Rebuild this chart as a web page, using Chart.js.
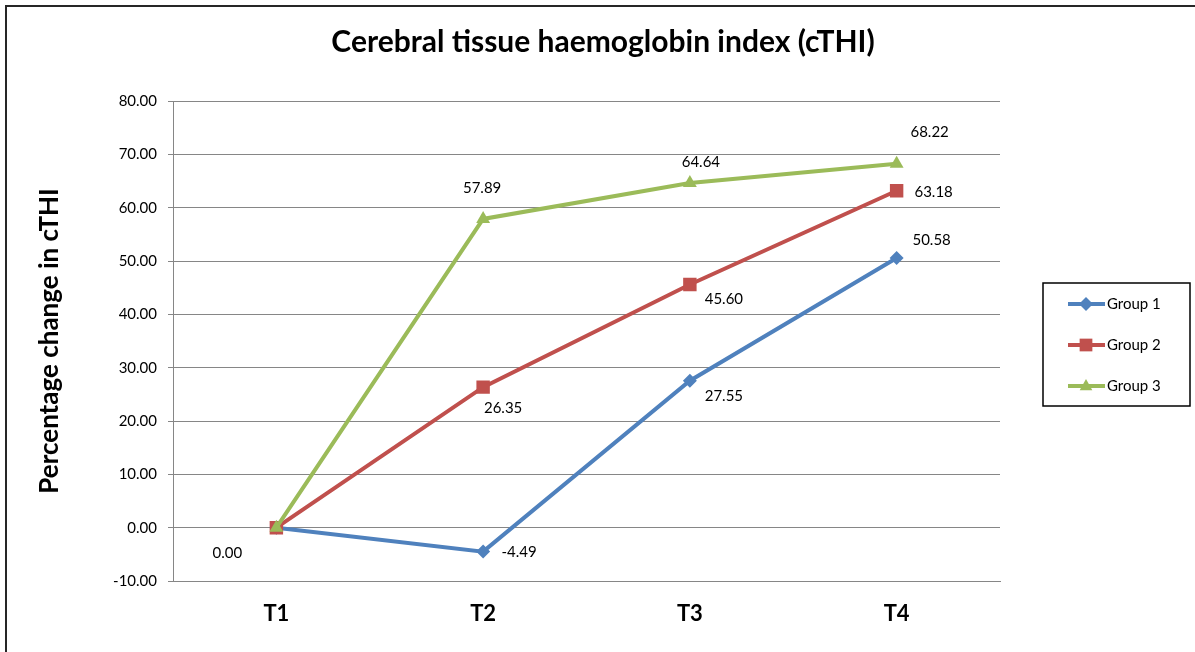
<!DOCTYPE html>
<html>
<head>
<meta charset="utf-8">
<script src="https://cdn.jsdelivr.net/npm/chart.js@4.4.1/dist/chart.umd.min.js"></script>
<style>
  html, body { margin: 0; padding: 0; background: #fff; overflow: hidden; }
  #wrap { position: relative; width: 1195px; height: 652px; }
  #frame { position: absolute; left: 5px; top: 5px; width: 1200px; height: 660px; border: 2px solid #262626; box-sizing: border-box; }
  canvas { position: absolute; left: 0; top: 0; }
</style>
</head>
<body>
<div id="wrap">
  <div id="frame"></div>
  <canvas id="chart" width="1195" height="652"></canvas>
</div>
<script>
const categories = ['T1', 'T2', 'T3', 'T4'];
const group1 = [0.00, -4.49, 27.55, 50.58];
const group2 = [0.00, 26.35, 45.60, 63.18];
const group3 = [0.00, 57.89, 64.64, 68.22];
const seriesNames = ['Group 1', 'Group 2', 'Group 3'];
const yMin = -10, yMax = 80, yStep = 10;
const chartTitle = 'Cerebral tissue haemoglobin index (cTHI)';

const colors = ['#4F81BD', '#C0504D', '#9BBB59'];
const markers = ['rectRot', 'rect', 'triangle'];
const FONT = 'Lato, "Open Sans", sans-serif';

// where each value label sits relative to its point (null = no label)
const labelOffsets = [
  [[-49, 25], [36, 1], [34, 15], [35, -18]],
  [null, [20, 21], [34, 15], [37, 1]],
  [null, [-1, -31], [11, -21], [33, -32]]
];

const valueLabels = {
  id: 'valueLabels',
  afterDatasetsDraw(chart) {
    const ctx = chart.ctx;
    ctx.save();
    ctx.font = '15px ' + FONT;
    ctx.fillStyle = '#000';
    ctx.textAlign = 'center';
    ctx.textBaseline = 'middle';
    chart.data.datasets.forEach((ds, i) => {
      const meta = chart.getDatasetMeta(i);
      meta.data.forEach((pt, j) => {
        const off = labelOffsets[i][j];
        if (!off) return;
        ctx.fillText(ds.data[j].toFixed(2), pt.x + off[0], pt.y + off[1]);
      });
    });
    ctx.restore();
  }
};

// title centred on the whole picture, not just the plot
const pageTitle = {
  id: 'pageTitle',
  afterDraw(chart) {
    const ctx = chart.ctx;
    ctx.save();
    ctx.font = 'bold 30px ' + FONT;
    ctx.fillStyle = '#000';
    ctx.textAlign = 'center';
    ctx.textBaseline = 'middle';
    ctx.fillText(chartTitle, 603, 42);
    ctx.restore();
  }
};

function drawMarker(ctx, style, x, y, r) {
  ctx.beginPath();
  if (style === 'rectRot') {
    ctx.moveTo(x - r, y); ctx.lineTo(x, y - r); ctx.lineTo(x + r, y); ctx.lineTo(x, y + r);
  } else if (style === 'rect') {
    const s = r * Math.SQRT1_2;
    ctx.rect(x - s, y - s, 2 * s, 2 * s);
  } else {
    ctx.moveTo(x, y - r); ctx.lineTo(x + r * 0.9, y + r * 0.6); ctx.lineTo(x - r * 0.9, y + r * 0.6);
  }
  ctx.closePath();
  ctx.fill();
}

// boxed legend to the right, like the original spreadsheet chart
const boxLegend = {
  id: 'boxLegend',
  afterDraw(chart) {
    const ctx = chart.ctx;
    ctx.save();
    ctx.strokeStyle = '#000';
    ctx.lineWidth = 1.5;
    ctx.strokeRect(1043, 283, 147, 123);
    ctx.font = '15px ' + FONT;
    ctx.textBaseline = 'middle';
    ctx.textAlign = 'left';
    chart.data.datasets.forEach((ds, i) => {
      const y = 304 + i * 41;
      ctx.strokeStyle = ds.borderColor;
      ctx.fillStyle = ds.borderColor;
      ctx.lineWidth = 4;
      ctx.beginPath();
      ctx.moveTo(1068, y); ctx.lineTo(1105, y);
      ctx.stroke();
      drawMarker(ctx, markers[i], 1086, y, i === 1 ? 9 : 7);
      ctx.fillStyle = '#000';
      ctx.fillText(ds.label, 1107, y);
    });
    ctx.restore();
  }
};

new Chart(document.getElementById('chart'), {
  type: 'line',
  data: {
    labels: categories,
    datasets: [group1, group2, group3].map((vals, i) => ({
      label: seriesNames[i],
      data: vals,
      borderColor: colors[i],
      backgroundColor: colors[i],
      borderWidth: 4,
      pointStyle: markers[i],
      pointRadius: [7, 9.5, 8][i],
      pointBorderWidth: 0,
      tension: 0,
      order: 3 - i
    }))
  },
  options: {
    responsive: false,
    animation: false,
    layout: { padding: { left: 0, right: 195, top: 101, bottom: 0 } },
    plugins: {
      legend: { display: false },
      tooltip: { enabled: false },
      title: { display: false }
    },
    scales: {
      x: {
        offset: true,
        grid: { display: false, drawTicks: false },
        border: { display: true, color: '#868686', width: 1 },
        ticks: { color: '#000', padding: 20, font: { family: FONT, size: 22, weight: 'bold' } },
        afterFit(scale) { scale.height = 71; }
      },
      y: {
        min: yMin,
        max: yMax,
        ticks: {
          stepSize: yStep,
          color: '#000',
          padding: 11,
          font: { family: FONT, size: 15 },
          callback: (v) => Number(v).toFixed(2)
        },
        grid: { color: '#868686', lineWidth: 1, tickLength: 5, tickColor: '#868686' },
        border: { display: true, color: '#868686', width: 1 },
        title: {
          display: true,
          text: 'Percentage change in cTHI',
          color: '#000',
          font: { family: FONT, size: 26, weight: 'bold', lineHeight: 1.2 },
          padding: { top: 34, bottom: 0 }
        },
        afterFit(scale) { scale.width = 173; }
      }
    }
  },
  plugins: [valueLabels, pageTitle, boxLegend]
});
</script>
</body>
</html>
